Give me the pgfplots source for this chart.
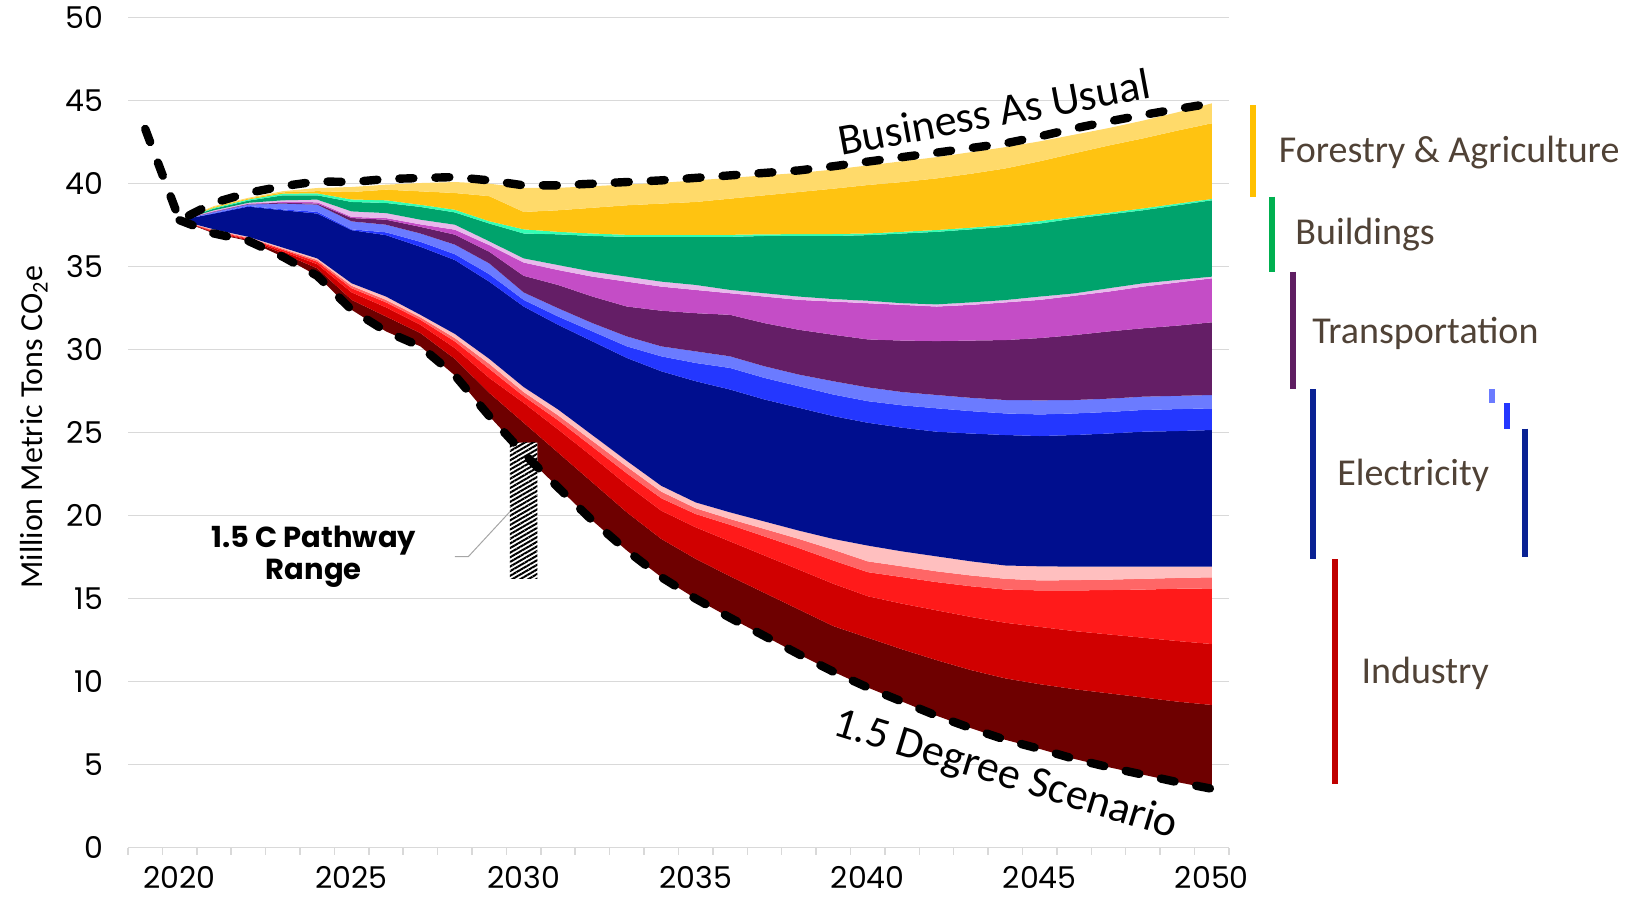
\documentclass[border=0pt]{standalone}
\usepackage{fontspec}
\setmainfont{Carlito}
\newfontfamily\poppins{Poppins}
\usepackage{pgfplots}
\usepackage{pgfplotstable}
\pgfplotsset{compat=1.18}
\usepgfplotslibrary{fillbetween}
\usetikzlibrary{patterns.meta}

\definecolor{gridgray}{RGB}{217,217,217}
\definecolor{cMaroon}{RGB}{110,0,0}
\definecolor{cDred}{RGB}{208,0,0}
\definecolor{cRed}{RGB}{255,26,26}
\definecolor{cSalmon}{RGB}{255,102,102}
\definecolor{cPink}{RGB}{255,191,191}
\definecolor{cNavy}{RGB}{0,14,142}
\definecolor{cBlue}{RGB}{36,55,255}
\definecolor{cLblue}{RGB}{107,123,255}
\definecolor{cDpurple}{RGB}{100,30,102}
\definecolor{cMagenta}{RGB}{196,77,198}
\definecolor{cPpurple}{RGB}{232,185,236}
\definecolor{cGreen}{RGB}{0,163,108}
\definecolor{cAqua}{RGB}{51,255,181}
\definecolor{cGold}{RGB}{255,195,17}
\definecolor{cLgold}{RGB}{255,218,106}
\definecolor{legtext}{RGB}{80,66,54}
\definecolor{lgGold}{RGB}{255,192,0}
\definecolor{lgGreen}{RGB}{0,176,80}
\definecolor{lgPurple}{RGB}{95,30,98}
\definecolor{lgNavy}{RGB}{10,34,148}
\definecolor{lgRed}{RGB}{192,0,0}

% boundaries of the stacked wedges (cumulative tops), Mt CO2e
\pgfplotstableread{
year base m d r s p n bb lb dp mg pp g aq go lg
2020 37.8 37.8 37.8 37.8 37.8 37.8 37.8 37.8 37.8 37.8 37.8 37.8 37.8 37.8 37.8 37.8
2021 37.0 37.05 37.1 37.15 37.2 37.25 38.2 38.23 38.3 38.32 38.35 38.4 38.5 38.55 38.6 38.65
2022 36.55 36.6 36.65 36.7 36.75 36.8 38.62 38.66 38.75 38.78 38.8 38.85 38.98 39.05 39.1 39.15
2023 35.6 35.8 35.92 36.02 36.08 36.15 38.4 38.45 38.8 38.85 38.9 39.0 39.3 39.4 39.48 39.55
2024 34.45 34.9 35.15 35.3 35.4 35.5 38.2 38.3 38.74 38.8 38.88 39.04 39.3 39.42 39.55 39.74
2025 32.4 33.0 33.45 33.7 33.85 34.0 37.2 37.25 37.73 37.93 38.0 38.33 38.9 39.05 39.5 39.8
2026 31.1 32.0 32.55 32.85 33.0 33.2 36.9 37.07 37.53 37.83 37.93 38.23 38.84 39.0 39.64 39.94
2027 30.2 31.0 31.5 31.8 31.95 32.1 36.2 36.5 37.0 37.4 37.55 37.83 38.6 38.73 39.54 40.04
2028 28.45 29.45 30.1 30.5 30.7 30.95 35.4 35.75 36.33 36.93 37.23 37.53 38.27 38.43 39.44 40.1
2029 26.0 27.4 28.3 28.85 29.15 29.45 34.1 34.55 35.2 35.9 36.3 36.53 37.6 37.74 39.25 40.0
2030 23.75 25.6 26.8 27.2 27.45 27.75 32.6 33.0 33.45 34.45 35.25 35.5 37.0 37.25 38.3 39.75
2031 21.7 23.8 25.2 25.75 26.05 26.4 31.5 32.0 32.5 33.9 34.8 35.1 36.95 37.1 38.4 39.75
2032 19.7 22.0 23.55 24.15 24.5 24.85 30.5 31.1 31.6 33.2 34.4 34.7 36.85 37.0 38.55 39.85
2033 17.9 20.2 21.85 22.55 22.95 23.3 29.5 30.2 30.8 32.6 34.1 34.4 36.8 36.92 38.7 39.95
2034 16.3 18.6 20.3 21.05 21.45 21.8 28.7 29.6 30.2 32.35 33.8 34.1 36.8 36.92 38.8 40.05
2035 15.0 17.4 19.3 20.1 20.45 20.8 28.1 29.2 29.9 32.2 33.6 33.9 36.8 36.92 38.9 40.2
2036 13.85 16.35 18.45 19.45 19.8 20.2 27.6 28.9 29.6 32.1 33.4 33.6 36.8 36.92 39.1 40.35
2037 12.75 15.35 17.6 18.75 19.2 19.65 27.0 28.3 29.0 31.6 33.2 33.4 36.85 36.95 39.3 40.5
2038 11.65 14.35 16.75 18.05 18.6 19.1 26.5 27.8 28.5 31.2 33.0 33.2 36.85 36.96 39.5 40.65
2039 10.6 13.35 15.9 17.3 17.95 18.6 26.0 27.3 28.1 30.9 32.9 33.05 36.85 36.97 39.7 40.85
2040 9.65 12.65 15.15 16.6 17.25 18.2 25.6 26.9 27.73 30.62 32.8 32.95 36.9 37.0 39.92 41.1
2041 8.8 11.95 14.7 16.3 16.95 17.85 25.3 26.65 27.45 30.55 32.7 32.8 37.0 37.1 40.1 41.35
2042 7.95 11.3 14.3 16.0 16.65 17.55 25.06 26.47 27.27 30.52 32.6 32.73 37.1 37.21 40.32 41.6
2043 7.2 10.7 13.9 15.75 16.4 17.25 24.95 26.3 27.1 30.55 32.7 32.85 37.25 37.35 40.6 41.9
2044 6.5 10.2 13.55 15.55 16.2 17.0 24.86 26.16 26.97 30.58 32.85 32.99 37.4 37.51 40.92 42.2
2045 5.95 9.85 13.3 15.5 16.1 16.95 24.8 26.1 26.95 30.7 33.0 33.2 37.6 37.75 41.35 42.55
2046 5.35 9.55 13.05 15.5 16.12 16.93 24.86 26.16 26.97 30.88 33.25 33.39 37.9 38.01 41.83 42.95
2047 4.85 9.3 12.85 15.52 16.15 16.93 24.95 26.25 27.05 31.1 33.5 33.7 38.15 38.25 42.3 43.35
2048 4.4 9.05 12.65 15.55 16.2 16.93 25.06 26.37 27.17 31.29 33.8 34.0 38.4 38.51 42.73 43.8
2049 3.95 8.8 12.45 15.6 16.25 16.93 25.1 26.42 27.22 31.45 34.05 34.2 38.7 38.8 43.2 44.3
2050 3.55 8.6 12.27 15.62 16.29 16.93 25.16 26.47 27.27 31.65 34.3 34.4 39.0 39.08 43.64 44.84
}\stack

% business as usual line
\pgfplotstableread{
year bau
2019 43.3
2020 37.8
2021 38.85
2022 39.45
2023 39.85
2024 40.14
2025 40.1
2026 40.28
2027 40.34
2028 40.4
2029 40.2
2030 39.9
2031 39.9
2032 40.0
2033 40.1
2034 40.2
2035 40.35
2036 40.5
2037 40.65
2038 40.8
2039 41.05
2040 41.33
2041 41.6
2042 41.87
2043 42.15
2044 42.43
2045 42.85
2046 43.33
2047 43.75
2048 44.14
2049 44.5
2050 44.84
}\bau

\begin{document}
\begin{tikzpicture}
\path (0,0) rectangle (815.5pt,449pt);
\begin{axis}[
  at={(64pt,25.15pt)}, anchor=south west,
  width=550.5pt, height=415pt, scale only axis,
  xmin=2018.5, xmax=2050.5, ymin=0, ymax=50,
  clip=false,
  axis lines*=left,
  y axis line style={draw=none},
  x axis line style={draw=gridgray, line width=0.75pt},
  ytick={0,5,...,50},
  xtick={2020,2025,...,2050},
  minor xtick={2018.5,2019.5,...,2050.5},
  major tick length=0pt, minor tick length=3.5pt,
  tick align=outside,
  every minor tick/.style={draw=gridgray, line width=0.75pt},
  ymajorgrids,
  grid style={draw=gridgray, line width=0.75pt},
  ticklabel style={font=\poppins\fontsize{15}{15}\selectfont, text=black},
  /pgf/number format/assume math mode=true,
  xticklabel style={/pgf/number format/1000 sep=, inner sep=0.5pt, yshift=-8.5pt},
  yticklabel style={xshift=-9pt},
]
% boundary curves
\addplot[draw=none, name path=base] table[x=year,y=base]{\stack};
\addplot[draw=none, name path=m] table[x=year,y=m]{\stack};
\addplot[draw=none, name path=d] table[x=year,y=d]{\stack};
\addplot[draw=none, name path=r] table[x=year,y=r]{\stack};
\addplot[draw=none, name path=s] table[x=year,y=s]{\stack};
\addplot[draw=none, name path=p] table[x=year,y=p]{\stack};
\addplot[draw=none, name path=n] table[x=year,y=n]{\stack};
\addplot[draw=none, name path=bb] table[x=year,y=bb]{\stack};
\addplot[draw=none, name path=lb] table[x=year,y=lb]{\stack};
\addplot[draw=none, name path=dp] table[x=year,y=dp]{\stack};
\addplot[draw=none, name path=mg] table[x=year,y=mg]{\stack};
\addplot[draw=none, name path=pp] table[x=year,y=pp]{\stack};
\addplot[draw=none, name path=g] table[x=year,y=g]{\stack};
\addplot[draw=none, name path=aq] table[x=year,y=aq]{\stack};
\addplot[draw=none, name path=go] table[x=year,y=go]{\stack};
\addplot[draw=none, name path=lg] table[x=year,y=lg]{\stack};
% wedges
\addplot[fill=cMaroon, draw=none] fill between[of=base and m];
\addplot[fill=cDred, draw=none] fill between[of=m and d];
\addplot[fill=cRed, draw=none] fill between[of=d and r];
\addplot[fill=cSalmon, draw=none] fill between[of=r and s];
\addplot[fill=cPink, draw=none] fill between[of=s and p];
\addplot[fill=cNavy, draw=none] fill between[of=p and n];
\addplot[fill=cBlue, draw=none] fill between[of=n and bb];
\addplot[fill=cLblue, draw=none] fill between[of=bb and lb];
\addplot[fill=cDpurple, draw=none] fill between[of=lb and dp];
\addplot[fill=cMagenta, draw=none] fill between[of=dp and mg];
\addplot[fill=cPpurple, draw=none] fill between[of=mg and pp];
\addplot[fill=cGreen, draw=none] fill between[of=pp and g];
\addplot[fill=cAqua, draw=none] fill between[of=g and aq];
\addplot[fill=cGold, draw=none] fill between[of=aq and go];
\addplot[fill=cLgold, draw=none] fill between[of=go and lg];

% 1.5 C pathway range bar
\addplot[draw=none, fill=white,
  postaction={pattern={Lines[angle=30,distance=2pt,line width=1pt]}, pattern color=black}]
  coordinates {(2029.6,16.2) (2030.4,16.2) (2030.4,24.4) (2029.6,24.4) (2029.6,16.2)};
\draw[gray!70, line width=0.5pt] (axis cs:2028.0,17.53) -- (axis cs:2028.39,17.53) -- (axis cs:2029.6,20.24);

% scenario lines
\addplot[black, line width=4.2pt, line cap=round, dash pattern=on 7pt off 11pt]
  table[x=year,y=bau]{\bau};
\addplot[black, line width=4.2pt, line cap=round, dash pattern=on 7pt off 11pt]
  table[x=year,y=base]{\stack};

\node[rotate=10.5, font=\fontsize{22}{22}\selectfont] at (axis cs:2043.67,44.32) {Business As Usual};
\node[rotate=-17, font=\fontsize{22}{22}\selectfont] at (axis cs:2044.0,4.35) {1.5 Degree Scenario};
\node[align=center, font=\poppins\bfseries\fontsize{14.5}{16}\selectfont] at (axis cs:2023.9,17.5) {1.5 C Pathway\\Range};

% sector brackets
\draw[lgGold, line width=3pt] (axis cs:2051.20,44.74) -- (axis cs:2051.20,39.22);
\draw[lgGreen, line width=3pt] (axis cs:2051.76,39.22) -- (axis cs:2051.76,34.70);
\draw[lgPurple, line width=3pt] (axis cs:2052.37,34.70) -- (axis cs:2052.37,27.61);
\draw[lgNavy, line width=3pt] (axis cs:2052.95,27.61) -- (axis cs:2052.95,17.39);
\draw[lgRed, line width=3pt] (axis cs:2053.59,17.39) -- (axis cs:2053.59,3.84);
\draw[cLblue, line width=3pt] (axis cs:2058.15,27.61) -- (axis cs:2058.15,26.81);
\draw[cBlue, line width=3pt] (axis cs:2058.59,26.77) -- (axis cs:2058.59,25.20);
\draw[lgNavy, line width=3pt] (axis cs:2059.11,25.24) -- (axis cs:2059.11,17.49);

\begin{scope}[every node/.style={anchor=base west, inner sep=0pt, text=legtext, font=\fontsize{19}{19}\selectfont}]
\node at (axis cs:2051.94,41.27) {Forestry \& Agriculture};
\node at (axis cs:2052.42,36.32) {Buildings};
\node at (axis cs:2052.91,30.38) {Transportation};
\node at (axis cs:2053.64,21.79) {Electricity};
\node at (axis cs:2054.34,9.9) {Industry};
\end{scope}
\end{axis}
\node[rotate=90, font=\fontsize{16}{16}\selectfont] at (17pt,235.5pt) {Million Metric Tons CO\textsubscript{2}e};
\end{tikzpicture}
\end{document}
